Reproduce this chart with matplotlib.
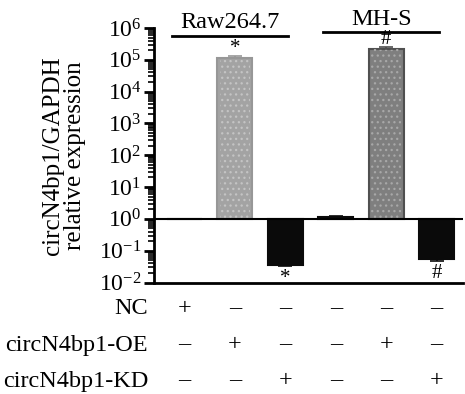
import matplotlib
matplotlib.use("Agg")
import matplotlib.pyplot as plt
import numpy as np
from matplotlib.transforms import blended_transform_factory

plt.rcParams['font.family'] = ['Liberation Serif', 'DejaVu Serif']
plt.rcParams['mathtext.fontset'] = 'custom'
plt.rcParams['mathtext.rm'] = 'Liberation Serif'
plt.rcParams['hatch.linewidth'] = 0.9

# data
groups = ["Raw264.7", "MH-S"]
values = [1.0, 1.15e5, 0.036, 1.15, 2.2e5, 0.055]
err_lo = [0.0, 0.0, 0.004, 0.0, 0.0, 0.008]
err_hi = [0.0, 0.15e5, 0.0, 0.1, 0.25e5, 0.0]
row_labels = ["NC", "circN4bp1-OE", "circN4bp1-KD"]
signs = [["+", "–", "–", "–", "–", "–"],
         ["–", "+", "–", "–", "+", "–"],
         ["–", "–", "+", "–", "–", "+"]]
marks = ["", "*", "*", "", "#", "#"]
ytick_exps = [-2, -1, 0, 1, 2, 3, 4, 5, 6]

face = ["#0a0a0a", "#a3a3a3", "#0a0a0a", "#0a0a0a", "#7f7f7f", "#0a0a0a"]
edge = ["#0a0a0a", "#979797", "#0a0a0a", "#0a0a0a", "#505050", "#0a0a0a"]
hatchc = [None, "#c4c4c4", None, None, "#a8a8a8", None]

FS = 17.5
W, H = 465, 394
fig = plt.figure(figsize=(W / 100, H / 100), dpi=100)
ax = fig.add_axes([154 / W, (H - 282.5) / H, (463 - 154) / W, (282.5 - 28) / H])
ax.set_yscale('log')
ax.set_ylim(1e-2, 1e6)
ax.set_xlim(-0.6, 5.52)

x = np.arange(len(values))
heights = [v - 1.0 for v in values]
for i in x:
    ax.bar(x[i], heights[i], bottom=1.0, width=0.69, color=face[i],
           edgecolor=edge[i], linewidth=1.5, zorder=2)
    if hatchc[i]:
        ax.bar(x[i], heights[i], bottom=1.0, width=0.6, color='none',
               edgecolor=hatchc[i], linewidth=0, hatch='...', zorder=3)
    lo, hi = err_lo[i], err_hi[i]
    if lo > 0 or hi > 0:
        ax.errorbar(x[i], values[i], yerr=[[lo], [hi]], fmt='none',
                    ecolor=edge[i], elinewidth=1.2, capsize=5, capthick=1.2, zorder=4)

# baseline at 10^0
ax.axhline(1.0, color='black', lw=1.5, zorder=5)

for s in ['top', 'right']:
    ax.spines[s].set_visible(False)
ax.spines['left'].set_linewidth(2)
ax.spines['bottom'].set_linewidth(2)
ax.set_xticks([])
ax.set_yticks([10.0 ** e for e in ytick_exps])
ax.set_yticklabels([r'$\mathregular{10^{%d}}$' % e for e in ytick_exps], fontsize=17)
ax.yaxis.set_minor_locator(matplotlib.ticker.LogLocator(base=10, subs=np.arange(2, 10)))
ax.tick_params(axis='y', which='major', direction='out', length=7, width=2, pad=2)
ax.tick_params(axis='y', which='minor', direction='out', length=4, width=1.2)
ax.yaxis.set_minor_formatter(matplotlib.ticker.NullFormatter())

ax.set_ylabel("circN4bp1/GAPDH\nrelative expression", fontsize=18, labelpad=9,
              linespacing=1.0)

# significance marks
for i in x:
    if marks[i]:
        if values[i] > 1:
            y = values[i] + err_hi[i]
            ax.annotate(marks[i], (x[i], y), xytext=(0, -1), textcoords='offset points',
                        ha='center', va='bottom', fontsize=15, zorder=6)
        else:
            y = values[i] - err_lo[i]
            ax.annotate(marks[i], (x[i], y), xytext=(0, -2), textcoords='offset points',
                        ha='center', va='top', fontsize=15, zorder=6)

# group headers
tr = blended_transform_factory(ax.transData, fig.transFigure)
for gi, g in enumerate(groups):
    x0, x1 = x[3 * gi] - 0.25, x[3 * gi + 2] + 0.05
    yl = (H - 35.5) / H if gi == 0 else (H - 32) / H
    ax.plot([x0, x1], [yl, yl], transform=tr, color='black', lw=2, clip_on=False)
    ax.text((x0 + x1) / 2, yl + 2 / H, g, transform=tr, ha='center', va='bottom',
            fontsize=FS)

# sign table
row_y = [309, 345, 381]
for r, lab in enumerate(row_labels):
    yy = (H - row_y[r]) / H
    fig.text(148 / W, yy, lab, ha='right', va='center', fontsize=FS)
    for i in x:
        ax.text(x[i], yy, signs[r][i], transform=tr, ha='center', va='center', fontsize=FS)

fig.savefig("out.png", dpi=100)
